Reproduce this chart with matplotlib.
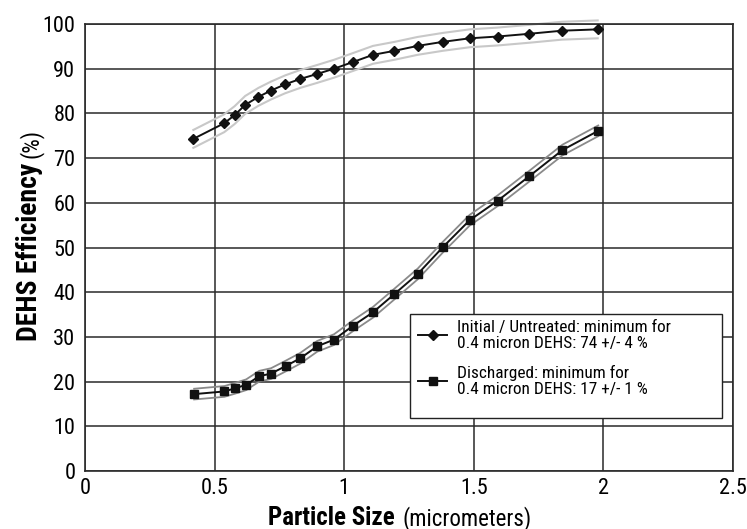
import numpy as np
import matplotlib
matplotlib.use('Agg')
import matplotlib.pyplot as plt
from matplotlib.patches import Rectangle

plt.rcParams['font.family'] = ['Roboto Condensed', 'DejaVu Sans']

# particle size (micrometers)
size_initial = [0.418, 0.537, 0.577, 0.618, 0.669, 0.717, 0.772, 0.830, 0.894, 0.961,
                1.034, 1.111, 1.194, 1.283, 1.380, 1.484, 1.592, 1.712, 1.840, 1.978]
eff_initial = [74.3, 77.8, 79.6, 81.9, 83.7, 85.1, 86.5, 87.7, 88.8, 90.0,
               91.5, 93.1, 94.0, 95.1, 96.0, 96.8, 97.2, 97.8, 98.5, 98.8]
band_initial = 2.0

size_dis = [0.421, 0.538, 0.579, 0.622, 0.672, 0.718, 0.775, 0.830, 0.896, 0.961,
            1.034, 1.111, 1.194, 1.284, 1.381, 1.484, 1.593, 1.713, 1.842, 1.980]
eff_dis = [17.2, 17.8, 18.5, 19.3, 21.2, 21.8, 23.5, 25.2, 27.9, 29.4,
           32.5, 35.5, 39.6, 44.1, 50.1, 56.1, 60.5, 65.9, 71.8, 76.1]
band_dis = 1.2

label_initial = 'Initial / Untreated: minimum for\n0.4 micron DEHS: 74 +/- 4 %'
label_dis = 'Discharged: minimum for\n0.4 micron DEHS: 17 +/- 1 %'

W, H = 747, 529
fig = plt.figure(figsize=(W / 100, H / 100), dpi=100)
ax = fig.add_axes([85 / W, 1 - 471 / H, 648 / W, 447 / H])

x1 = np.array(size_initial)
y1 = np.array(eff_initial)
x2 = np.array(size_dis)
y2 = np.array(eff_dis)

# uncertainty envelopes
ax.plot(x1, y1 + band_initial, color='#c8c8c8', lw=1.5, clip_on=False, zorder=2)
ax.plot(x1, y1 - band_initial, color='#c8c8c8', lw=1.5, zorder=2)
ax.plot(x2, y2 + band_dis, color='#8a8a8a', lw=1.3, zorder=2)
ax.plot(x2, y2 - band_dis, color='#8a8a8a', lw=1.3, zorder=2)

ax.plot(x1, y1, color='#111111', lw=1.4, marker='D', ms=5.5, zorder=3, label=label_initial)
ax.plot(x2, y2, color='#111111', lw=1.4, marker='s', ms=5.6, zorder=3, label=label_dis)

ax.set_xlim(0, 2.5)
ax.set_ylim(0, 100)
ax.set_xticks([0, 0.5, 1, 1.5, 2, 2.5])
ax.set_xticklabels(['0', '0.5', '1', '1.5', '2', '2.5'])
ax.set_yticks(range(0, 101, 10))
ax.tick_params(length=0, labelsize=16)
ax.tick_params(axis='y', pad=7)
ax.tick_params(axis='x', pad=5)
ax.grid(True, color='#2a2a2a', lw=1.1)
ax.set_axisbelow(True)
for s in ax.spines.values():
    s.set_color('#2a2a2a')
    s.set_linewidth(1.2)

# legend box drawn separately (the original has extra room on the right)
box = Rectangle((410 / W, 1 - 418 / H), 312 / W, 104 / H, transform=fig.transFigure,
                facecolor='white', edgecolor='#222222', lw=1.0, zorder=4, clip_on=False)
ax.add_patch(box)
leg = ax.legend(loc='upper left', bbox_to_anchor=(418 / W, 1 - 320 / H),
                bbox_transform=fig.transFigure, fontsize=12.4, frameon=False,
                handlelength=1.7, handletextpad=0.55, labelspacing=0.85,
                borderpad=0, borderaxespad=0)
leg.set_zorder(5)
for t in leg.get_texts():
    t.set_linespacing(1.05)

# axis labels: bold part + regular part
renderer = fig.canvas.get_renderer()
xb = fig.text(268 / W, 1 - 525 / H, 'Particle Size', fontsize=18, fontweight='bold',
              ha='left', va='baseline')
bb = xb.get_window_extent(renderer)
fig.text((bb.x1 + 8) / W, 1 - 525 / H, '(micrometers)', fontsize=16.5,
         ha='left', va='baseline')

yb = fig.text(37 / W, 1 - 341 / H, 'DEHS Efficiency', fontsize=20, fontweight='bold',
              rotation=90, rotation_mode='anchor', ha='left', va='baseline')
bb = yb.get_window_extent(renderer)
fig.text(38 / W, (bb.y1 + 5) / H, '(%)', fontsize=16.5,
         rotation=90, rotation_mode='anchor', ha='left', va='baseline')

fig.savefig('out.png', dpi=100)
